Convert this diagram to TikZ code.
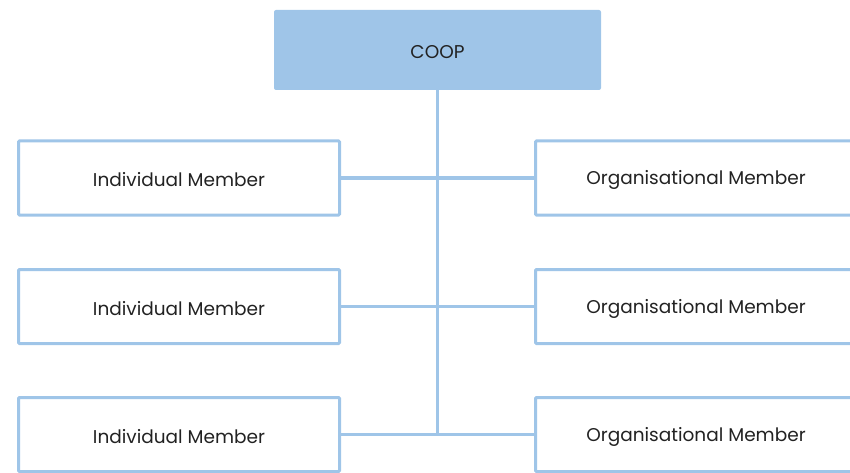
\documentclass[tikz,border=0pt]{standalone}
\usepackage{fontspec}
\setmainfont{Poppins}
\definecolor{lineblue}{HTML}{9FC5E8}
\definecolor{txt}{HTML}{222222}
\tikzset{
  memberbox/.style={draw=lineblue, line width=3pt, fill=white, minimum width=321pt, minimum height=74pt, inner sep=0pt, outer sep=0pt, rounded corners=1pt, text=txt, font=\fontsize{18.5}{21}\selectfont},
  topbox/.style={fill=lineblue, minimum width=327pt, minimum height=80pt, inner sep=0pt, outer sep=0pt, rounded corners=2pt, text=txt, font=\fontsize{18.5}{21}\selectfont},
  conn/.style={draw=lineblue, line width=3.5pt},
  lbl/.style={text=txt, font=\fontsize{18.5}{21}\selectfont, inner sep=0pt}
}
\begin{document}
\begin{tikzpicture}[x=1pt,y=-1pt]
\useasboundingbox (0,0) rectangle (850,473);
\clip (0,0) rectangle (850,473);
\node[topbox] (coop) at (437.5,50) {};
\node[lbl] (coopt) at (437.5,52) {COOP};
\coordinate (trunkend) at (437.5,435);
\draw[conn] (coop.south) -- (trunkend);
\node[memberbox] (l1) at (179,178) {};
\node[memberbox] (l2) at (179,306.5) {};
\node[memberbox] (l3) at (179,434.5) {};
\node[memberbox] (r1) at (696,178) {};
\node[memberbox] (r2) at (696,306.5) {};
\node[memberbox] (r3) at (696,434.5) {};
\node[lbl] (l1t) at (179,180) {Individual Member};
\node[lbl] (l2t) at (179,308.5) {Individual Member};
\node[lbl] (l3t) at (179,436.5) {Individual Member};
\node[lbl] (r1t) at (696,180) {Organisational Member};
\node[lbl] (r2t) at (696,308.5) {Organisational Member};
\node[lbl] (r3t) at (696,436.5) {Organisational Member};
\draw[conn] (l1.east) -- (r1.west);
\draw[conn] (l2.east) -- (r2.west);
\draw[conn] (l3.east) -- (r3.west);
\end{tikzpicture}
\end{document}
